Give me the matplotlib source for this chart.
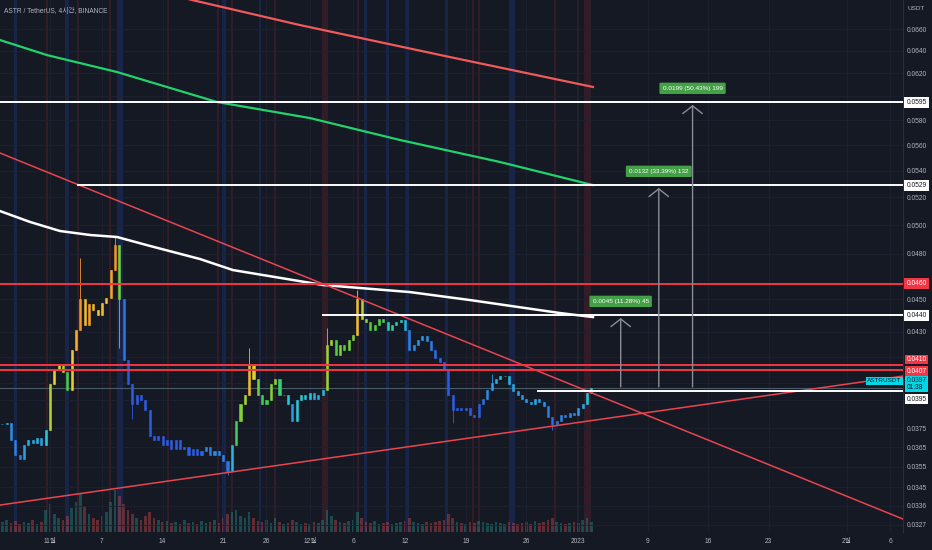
import numpy as np
import pandas as pd
import matplotlib.pyplot as plt
from matplotlib.colors import LinearSegmentedColormap, Normalize
from matplotlib.ticker import FixedLocator, FixedFormatter, NullLocator

plt.rcParams['font.family'] = ['Liberation Sans', 'Noto Sans CJK KR']

# x values are days counted from 2022-11-01; candles sampled every 12h
start_day = -5.5
step = 0.5
closes = [
    0.0377, 0.0378, 0.0369, 0.0361, 0.0359, 0.0366, 0.0369, 0.0367, 0.0370, 0.0366,
    0.0374, 0.0399, 0.0407, 0.0410, 0.0406, 0.0396, 0.0419, 0.0431, 0.0450, 0.0434,
    0.0447, 0.0443, 0.0440, 0.0448, 0.0451, 0.0469, 0.0486, 0.0450, 0.0413, 0.0399,
    0.0388, 0.0393, 0.0390, 0.0385, 0.0371, 0.0369, 0.0371, 0.0366, 0.0369, 0.0364,
    0.0369, 0.0364, 0.0365, 0.0361, 0.0364, 0.0361, 0.0363, 0.0365, 0.0361, 0.0363,
    0.0361, 0.0358, 0.0353, 0.0366, 0.0379, 0.0388, 0.0393, 0.0410, 0.0402, 0.0393,
    0.0388, 0.0390, 0.0399, 0.0402, 0.0393, 0.0393, 0.0388, 0.0379, 0.0390, 0.0393,
    0.0391, 0.0394, 0.0391, 0.0393, 0.0396, 0.0422, 0.0425, 0.0416, 0.0422, 0.0419,
    0.0425, 0.0428, 0.0450, 0.0438, 0.0436, 0.0431, 0.0434, 0.0438, 0.0436, 0.0431,
    0.0434, 0.0436, 0.0437, 0.0431, 0.0419, 0.0422, 0.0425, 0.0427, 0.0424, 0.0419,
    0.0414, 0.0412, 0.0407, 0.0393, 0.0385, 0.0386, 0.0385, 0.0386, 0.0382, 0.0381,
    0.0388, 0.0391, 0.0396, 0.0400, 0.0402, 0.0404, 0.0404, 0.0399, 0.0395, 0.0393,
    0.0391, 0.0389, 0.0388, 0.0391, 0.0389, 0.0387, 0.0381, 0.0377, 0.0379, 0.0382,
    0.0381, 0.0383, 0.0382, 0.0386, 0.0388, 0.0394, 0.0397,
]
volumes = [
    10, 12, 9, 11, 8, 10, 9, 12, 8, 10,
    22, 28, 18, 14, 12, 16, 24, 30, 38, 26,
    18, 14, 12, 16, 20, 30, 42, 36, 28, 22,
    18, 14, 12, 16, 20, 14, 12, 10, 11, 9,
    10, 8, 12, 9, 10, 8, 11, 9, 10, 12,
    9, 14, 18, 20, 22, 16, 14, 20, 14, 11,
    10, 12, 9, 14, 10, 8, 9, 12, 10, 8,
    9, 8, 10, 9, 12, 22, 16, 12, 10, 9,
    11, 12, 20, 14, 10, 9, 11, 8, 9, 10,
    8, 9, 10, 11, 14, 10, 9, 8, 10, 9,
    10, 11, 12, 18, 14, 10, 9, 8, 10, 9,
    11, 10, 9, 8, 10, 9, 8, 10, 9, 8,
    9, 10, 8, 11, 9, 10, 12, 14, 10, 9,
    8, 9, 10, 9, 12, 14, 10,
]
wick_highs = {18: 0.0477, 26: 0.0492, 57: 0.0420, 82: 0.0456, 75: 0.0432, 113: 0.0405}
wick_lows = {27: 0.0420, 52: 0.0351, 30: 0.0380, 104: 0.0378, 127: 0.0374}

# moving averages read at a few dates
ma_white_x = [-5.77, -2.31, 1.15, 4.62, 7.74, 11.55, 17.32, 21.13, 31.52, 41.57, 48.50, 58.89, 62.70]
ma_white_y = [0.0510, 0.05022, 0.04958, 0.04930, 0.04916, 0.04854, 0.04765, 0.04691, 0.04593,
              0.04547, 0.04496, 0.04414, 0.04389]
ma_green_x = [-5.77, -0.35, 7.74, 19.28, 30.02, 40.42, 51.96, 62.70]
ma_green_y = [0.06498, 0.06361, 0.06210, 0.05952, 0.05818, 0.05640, 0.05467, 0.05291]
ma_red_x = [11.55, 16.4, 28.87, 46.19, 62.70]
ma_red_y = [0.06985, 0.06877, 0.06637, 0.06343, 0.06080]

trend_down_x = [-5.77, 98.5]
trend_down_y = [0.05537, 0.03297]
trend_up_x = [-5.77, 98.5]
trend_up_y = [0.03363, 0.04037]

levels = [0.0595, 0.0529, 0.0460, 0.0440, 0.0410, 0.0407, 0.0395]
level_from = [-5.8, 3.2, -5.8, 31.5, -5.8, -5.8, 56.4]
level_is_red = [False, False, True, False, True, True, False]

measure_x = [65.9, 70.3, 74.2]
measure_base = 0.0396
measure_top = [0.0440, 0.0529, 0.0595]
measure_text = ["0.0045 (11.28%) 45", "0.0132 (33.39%) 132", "0.0199 (50.43%) 199"]

band_red = [-0.35, 3.23, 6.93, 13.6, 19.4, 21.0, 26.0, 31.75, 35.6, 48.8, 49.5, 58.3, 61.0, 62.1]
band_red_w = [0.3, 0.3, 0.3, 0.25, 0.25, 0.25, 0.25, 0.7, 0.25, 0.25, 0.25, 0.25, 0.25, 0.8]
band_blue = [-3.93, 1.96, 8.08, 20.1, 24.25, 36.4, 39.0, 41.3, 45.8, 53.3]
band_blue_w = [0.35, 0.4, 0.7, 0.5, 0.3, 0.3, 0.3, 0.4, 0.35, 0.7]

tick_days = [0, 6, 13, 20, 25, 30, 35, 41, 48, 55, 61, 69, 76, 83, 92, 97]
tick_names = ["11월", "7", "14", "21", "26", "12월", "6", "12", "19", "26", "2023",
              "9", "16", "23", "2월", "6"]
price_ticks = [0.0327, 0.0336, 0.0345, 0.0355, 0.0365, 0.0375, 0.0390, 0.0400, 0.0415,
               0.0430, 0.0450, 0.0480, 0.0500, 0.0520, 0.0540, 0.0560, 0.0580, 0.0600,
               0.0620, 0.0640, 0.0660]
hidden_ticks = [0.0390, 0.0400, 0.0415, 0.0600]

bg = '#151924'
red = '#f23645'
txt = '#b2b5be'

fig = plt.figure(figsize=(9.32, 5.5), dpi=100, facecolor=bg)
rect = [0, 18 / 550, 903 / 932, 532 / 550]
axv = fig.add_axes(rect, facecolor=bg)
ax = fig.add_axes(rect, facecolor='none', sharex=axv)

xlim = (-5.77, 98.5)
axv.set_xlim(*xlim)
axv.set_ylim(0, 532)
axv.axis('off')

for d, w in zip(band_red, band_red_w):
    axv.axvspan(d - w / 2, d + w / 2, color=red, alpha=0.13, lw=0)
for d, w in zip(band_blue, band_blue_w):
    axv.axvspan(d - w / 2, d + w / 2, color='#2962ff', alpha=0.17, lw=0)

closes = np.array(closes)
xs = start_day + step * np.arange(len(closes))
opens = np.r_[closes[0], closes[:-1]]
up = closes >= opens
axv.bar(xs, volumes, width=0.3, color=np.where(up, '#26a69a', '#ef5350'), alpha=0.35, lw=0)

ax.set_yscale('log')
ax.set_ylim(0.03237, 0.06877)
ax.grid(True, color='#1e2230', lw=0.6)
ax.set_axisbelow(True)

mean = pd.Series(closes).rolling(20, min_periods=1).mean().to_numpy()
cmap = LinearSegmentedColormap.from_list(
    'grad', [(0, '#2d5be3'), (0.22, '#2a9fe6'), (0.32, '#27c9dc'), (0.48, '#45d13a'),
             (0.7, '#f2d12c'), (1, '#f5922a')])
cols = cmap(Normalize(-0.05, 0.15)(closes / mean - 1))
lo = np.minimum(opens, closes)
hi = np.maximum(opens, closes)
wl = lo.copy()
wh = hi.copy()
for i, v in wick_highs.items():
    wh[i] = v
for i, v in wick_lows.items():
    wl[i] = v
ax.vlines(xs, wl, wh, colors=cols, lw=0.6, zorder=3)
ax.bar(xs, hi - lo, bottom=lo, width=0.24, color=cols, edgecolor=cols, lw=0.4, zorder=3)

ax.plot(ma_red_x, ma_red_y, color='#f05a5a', lw=1.6, zorder=4)
ax.plot(ma_green_x, ma_green_y, color='#22d36b', lw=1.6, zorder=4)
ax.plot(ma_white_x, ma_white_y, color='white', lw=1.8, zorder=4)
ax.plot(trend_down_x, trend_down_y, color='#e8454f', lw=1.1, zorder=4)
ax.plot(trend_up_x, trend_up_y, color='#e8454f', lw=1.1, zorder=4)

ax.axhline(closes[-1], color='#4a5a66', lw=0.8, zorder=2)
for lv, x0, is_red in zip(levels, level_from, level_is_red):
    ax.plot([x0, xlim[1]], [lv, lv], color=red if is_red else 'white', lw=1.4, zorder=5)

for mx, top, label in zip(measure_x, measure_top, measure_text):
    ax.annotate('', xy=(mx, top), xytext=(mx, measure_base),
                arrowprops=dict(arrowstyle='->,head_length=0.55,head_width=0.7',
                                color='#8a8d96', lw=1.0), zorder=6)
    ax.annotate(label, xy=(mx, top), xytext=(0, 10), textcoords='offset points',
                ha='center', va='center', fontsize=4.6, color='white', zorder=7,
                bbox=dict(boxstyle='round,pad=0.5,rounding_size=0.2', fc='#43a047', ec='none'))

ax.set_xlim(*xlim)
ax.xaxis.set_major_locator(FixedLocator(tick_days))
ax.xaxis.set_major_formatter(FixedFormatter(tick_names))
ax.yaxis.tick_right()
ax.yaxis.set_major_locator(FixedLocator(price_ticks))
ax.yaxis.set_major_formatter(FixedFormatter(
    ["" if p in hidden_ticks else f"{p:.4f}" for p in price_ticks]))
ax.yaxis.set_minor_locator(NullLocator())
ax.tick_params(axis='both', length=0, labelsize=4.8, colors=txt)
ax.tick_params(axis='y', pad=3)
ax.tick_params(axis='x', pad=4)
for s in ['top', 'left', 'bottom']:
    ax.spines[s].set_visible(False)
ax.spines['right'].set_color('#2a2e39')


def axis_box(text, price, dy, face, color, pad=0.3):
    ax.annotate(text, xy=(1, price), xycoords=('axes fraction', 'data'), xytext=(2.5, dy),
                textcoords='offset points', ha='left', va='center', fontsize=4.8,
                color=color, zorder=8, annotation_clip=False, linespacing=1.0,
                bbox=dict(boxstyle=f'square,pad={pad}', fc=face, ec='none'))


axis_box("0.0595", 0.0595, 0, 'white', '#131722')
axis_box("0.0529", 0.0529, 0, 'white', '#131722')
axis_box("0.0460", 0.0460, 0, red, 'white')
axis_box("0.0440", 0.0440, 0, 'white', '#131722')
axis_box("0.0410", 0.0410, 4.0, red, 'white', 0.2)
axis_box("0.0407", 0.0407, -0.5, red, 'white', 0.2)
axis_box("0.0397\n01:38", closes[-1], 2.8, '#00d8e8', '#131722', 0.2)
axis_box("0.0395", 0.0395, -5.6, 'white', '#131722', 0.2)
ax.annotate("ASTRUSDT", xy=(1, closes[-1]), xycoords=('axes fraction', 'data'), xytext=(-1, 5.0),
            textcoords='offset points', ha='right', va='center', fontsize=4.6, color='#131722',
            zorder=8, annotation_clip=False, bbox=dict(boxstyle='square,pad=0.2', fc='#00d8e8', ec='none'))

fig.text(4 / 932, 1 - 11 / 550, "ASTR / TetherUS, 4시간, BINANCE", fontsize=4.8, color=txt, va='center')
fig.text(907 / 932, 1 - 8 / 550, "USDT", fontsize=4.6, color=txt, va='center')

fig.savefig('out.png', dpi=100, facecolor=bg)
